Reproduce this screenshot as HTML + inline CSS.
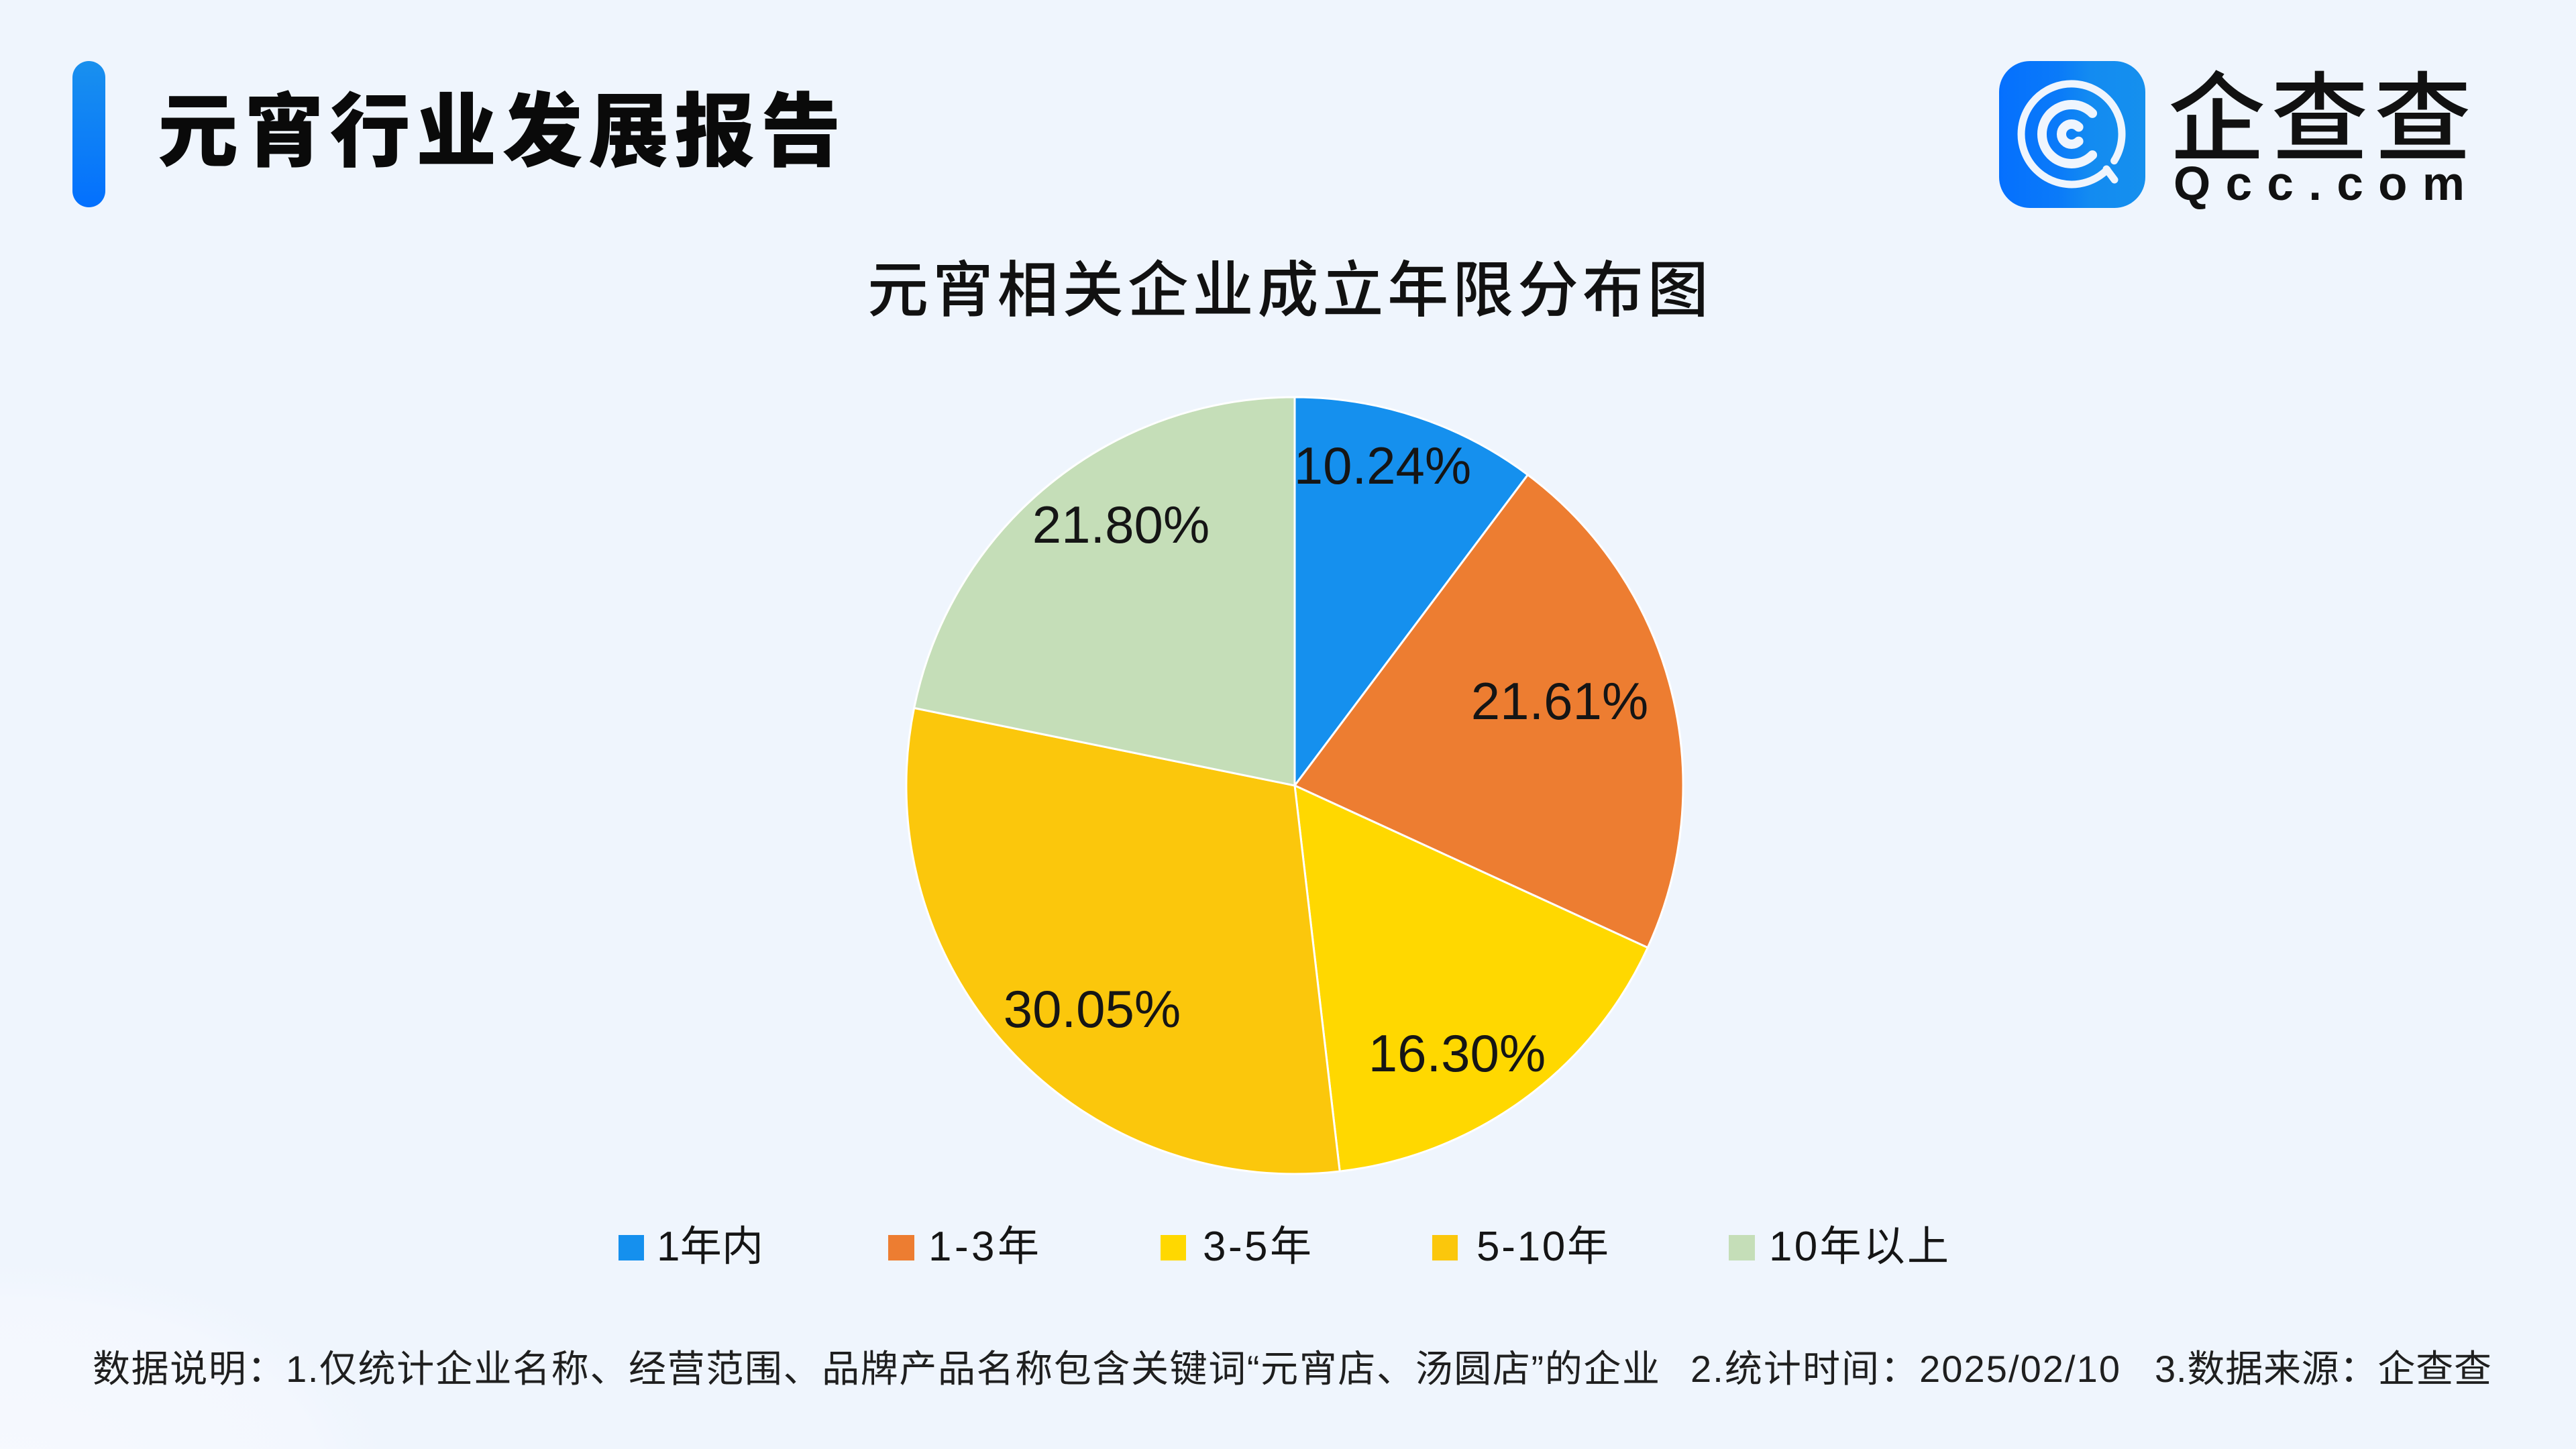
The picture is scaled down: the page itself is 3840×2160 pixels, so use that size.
<!DOCTYPE html>
<html>
<head>
<meta charset="utf-8">
<style>
  html, body { margin: 0; padding: 0; background: #EFF5FD; }
  svg { display: block; }
</style>
</head>
<body>
<svg width="3840" height="2160" viewBox="0 0 3840 2160" xmlns="http://www.w3.org/2000/svg">
  <defs>
    <linearGradient id="bar" x1="0" y1="0" x2="0" y2="1">
      <stop offset="0" stop-color="#1990EE"/>
      <stop offset="1" stop-color="#0370FE"/>
    </linearGradient>
    <linearGradient id="icon" x1="0" y1="0" x2="1" y2="0">
      <stop offset="0" stop-color="#0570FE"/>
      <stop offset="0.4" stop-color="#0A7AF9"/>
      <stop offset="0.62" stop-color="#138BF1"/>
      <stop offset="1" stop-color="#1590EE"/>
    </linearGradient>
    <radialGradient id="blob" cx="0" cy="2200" r="600" gradientUnits="userSpaceOnUse" gradientTransform="translate(0,2200) scale(1,0.55) translate(0,-2200)">
      <stop offset="0" stop-color="#F6F9FE"/>
      <stop offset="0.8" stop-color="#F3F7FE"/>
      <stop offset="1" stop-color="#EFF5FD" stop-opacity="0"/>
    </radialGradient>
  </defs>

  <!-- background -->
  <rect x="0" y="0" width="3840" height="2160" fill="#EFF5FD"/>
  <rect x="0" y="1800" width="800" height="360" fill="url(#blob)"/>

  <!-- header bar -->
  <rect x="108" y="91" width="49" height="218" rx="24.5" ry="24.5" fill="url(#bar)"/>

  <!-- header title -->
  <text y="238" font-family="'Liberation Sans','Noto Sans CJK SC',sans-serif" font-size="120" font-weight="900" fill="#0A0A0A"
        x="235 363.4 491.8 620.2 748.6 877 1005.4 1133.8">元宵行业发展报告</text>

  <!-- logo icon -->
  <rect x="2980" y="91" width="218" height="219" rx="46" ry="46" fill="url(#icon)"/>
  <g fill="none" stroke="#EFF5FD" stroke-linecap="round">
    <path d="M3141 253 A75 75 0 1 1 3151.6 239.7" stroke-width="11"/>
    <path d="M3140 252 L3152 268" stroke-width="11"/>
    <path d="M3119.1 168.9 A44 44 0 1 0 3119.1 231.1" stroke-width="14"/>
    <path d="M3098.6 189.4 A15 15 0 1 0 3098.6 210.6" stroke-width="14"/>
  </g>

  <!-- logo text -->
  <text x="3232" y="228" font-family="'Liberation Sans','Noto Sans CJK SC',sans-serif" font-size="145" font-weight="500" fill="#111111"
        textLength="452" lengthAdjust="spacing">企查查</text>
  <text x="3240" y="298" font-family="'Liberation Sans',sans-serif" font-size="71" font-weight="bold" fill="#111111"
        textLength="434" lengthAdjust="spacing">Qcc.com</text>

  <!-- chart title -->
  <text y="464" font-family="'Liberation Sans','Noto Sans CJK SC',sans-serif" font-size="91" font-weight="500" fill="#111111"
        x="1293 1389.9 1486.8 1583.7 1680.6 1777.5 1874.4 1971.3 2068.2 2165.1 2262 2358.9 2455.8">元宵相关企业成立年限分布图</text>

  <!-- pie -->
  <g stroke="#FFFFFF" stroke-width="3" stroke-linejoin="round">
    <path d="M1930 1171 L1930 592 A579 579 0 0 1 2277.4 707.8 Z" fill="#1590EE"/>
    <path d="M1930 1171 L2277.4 707.8 A579 579 0 0 1 2456.2 1412.6 Z" fill="#ED7D31"/>
    <path d="M1930 1171 L2456.2 1412.6 A579 579 0 0 1 1997.2 1746.1 Z" fill="#FFD800"/>
    <path d="M1930 1171 L1997.2 1746.1 A579 579 0 0 1 1362.6 1055.4 Z" fill="#FBC70C"/>
    <path d="M1930 1171 L1362.6 1055.4 A579 579 0 0 1 1930 592 Z" fill="#C5DEB8"/>
  </g>

  <!-- pie labels -->
  <g font-family="'Liberation Sans',sans-serif" font-size="78" fill="#151515" text-anchor="middle">
    <text x="2061" y="721">10.24%</text>
    <text x="2325" y="1072">21.61%</text>
    <text x="2172" y="1597">16.30%</text>
    <text x="1628" y="1531">30.05%</text>
    <text x="1671" y="809">21.80%</text>
  </g>

  <!-- legend -->
  <rect x="922" y="1841" width="38" height="38" fill="#1590EE"/>
  <rect x="1324" y="1841" width="39" height="38" fill="#ED7D31"/>
  <rect x="1730" y="1841" width="38" height="38" fill="#FFD800"/>
  <rect x="2135" y="1841" width="38" height="38" fill="#FBC70C"/>
  <rect x="2577" y="1841" width="39" height="38" fill="#C5DEB8"/>
  <g font-family="'Liberation Sans','Noto Sans CJK SC',sans-serif" font-size="62" fill="#151515">
    <text x="979" y="1879" textLength="159" lengthAdjust="spacing">1年内</text>
    <text x="1384" y="1879" textLength="165" lengthAdjust="spacing">1-3年</text>
    <text x="1793" y="1879" textLength="162" lengthAdjust="spacing">3-5年</text>
    <text x="2201" y="1879" textLength="197" lengthAdjust="spacing">5-10年</text>
    <text x="2637" y="1879" textLength="268" lengthAdjust="spacing">10年以上</text>
  </g>

  <!-- footer -->
  <g font-family="'Liberation Sans','Noto Sans CJK SC',sans-serif" font-size="56" fill="#1F1F1F">
    <text x="138" y="2060" textLength="2336" lengthAdjust="spacing">数据说明：1.仅统计企业名称、经营范围、品牌产品名称包含关键词“元宵店、汤圆店”的企业</text>
    <text x="2520" y="2060" textLength="640" lengthAdjust="spacing">2.统计时间：2025/02/10</text>
    <text x="3212" y="2060" textLength="502" lengthAdjust="spacing">3.数据来源：企查查</text>
  </g>
</svg>
</body>
</html>
